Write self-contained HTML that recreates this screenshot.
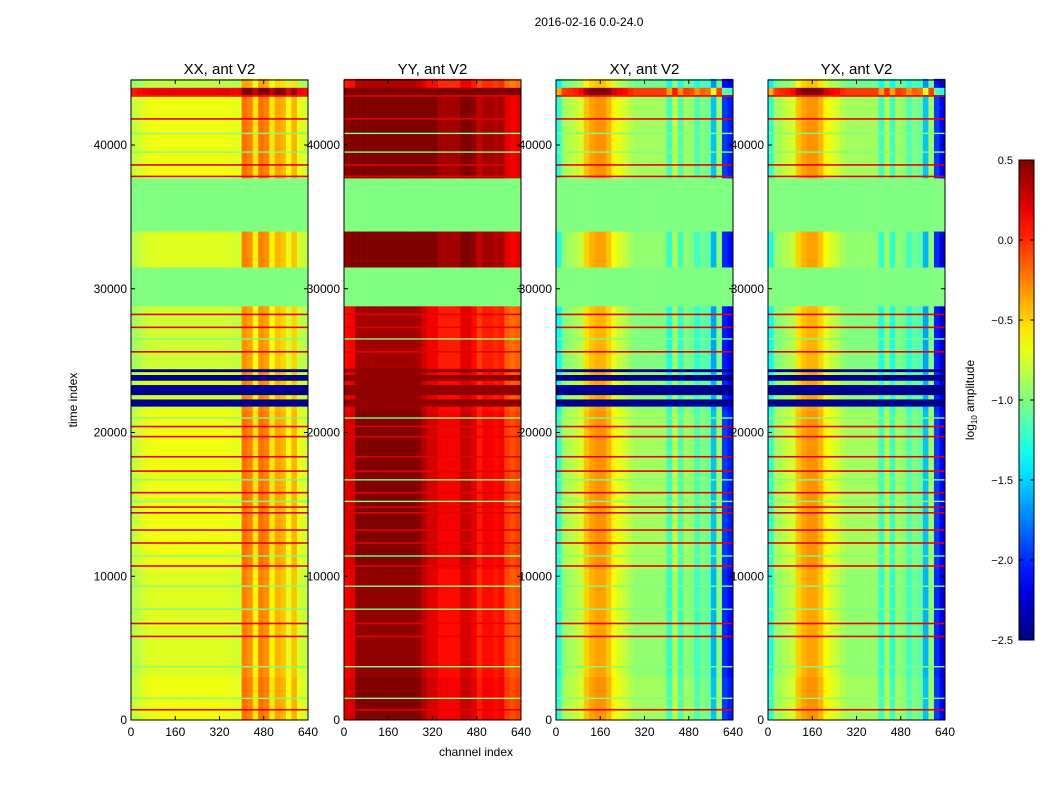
<!DOCTYPE html>
<html><head><meta charset="utf-8"><style>
body{margin:0;background:#fff;font-family:"Liberation Sans",sans-serif}
svg text{font-family:"Liberation Sans",sans-serif}
</style></head><body>
<svg id="fig" width="1050" height="800" xmlns="http://www.w3.org/2000/svg">
<rect width="1050" height="800" fill="#fff"/>
<text x="589" y="26" font-size="12" text-anchor="middle">2016-02-16 0.0-24.0</text>
<text transform="translate(77,400) rotate(-90)" font-size="12" text-anchor="middle">time index</text>
<text x="476" y="756" font-size="12" text-anchor="middle">channel index</text>
<g id="panels"></g>
<g id="cbar"></g>
</svg>
<script>
const titles=["XX, ant V2","YY, ant V2","XY, ant V2","YX, ant V2"];
const xTicks=[0,160,320,480,640];
const yTicks=[0,10000,20000,30000,40000];
const cbTicks=[0.5,0.0,-0.5,-1.0,-1.5,-2.0,-2.5];
const profXX=[-0.85,-0.8,-0.75,-0.72,-0.72,-0.72,-0.72,-0.72,-0.72,-0.72,-0.72,-0.72,-0.72,-0.72,-0.72,-0.72,-0.72,-0.72,-0.75,-0.75,-0.25,-0.3,-0.6,-0.25,-0.3,-0.6,-0.4,-0.45,-0.7,-0.45,-0.75,-0.8];
const profYY=[0.15,0.2,0.45,0.45,0.45,0.45,0.45,0.45,0.45,0.45,0.45,0.45,0.45,0.42,0.3,0.2,0.2,0.1,0.1,0.1,0.1,0.25,0.25,0.15,0.0,0.1,0.1,0.05,0.1,-0.1,-0.15,-0.1];
const profXY=[-1.3,-0.95,-0.9,-0.85,-0.8,-0.5,-0.4,-0.35,-0.35,-0.45,-0.65,-0.75,-0.8,-0.9,-0.95,-0.95,-0.95,-0.95,-0.95,-0.95,-1.25,-0.85,-1.2,-0.95,-1.0,-1.2,-1.05,-1.1,-1.6,-0.95,-2.0,-2.1];
const profYX=[-1.3,-0.95,-0.9,-0.85,-0.8,-0.5,-0.4,-0.35,-0.35,-0.45,-0.65,-0.75,-0.8,-0.9,-0.95,-0.95,-0.95,-0.95,-0.95,-0.95,-1.25,-0.9,-1.25,-0.95,-1.0,-1.2,-1.05,-1.1,-1.6,-0.95,-2.0,-2.2];
const profiles=[profXX,profYY,profXY,profYX];
const bandStart=[0,3000,10500,21500,24500,28800,31500,34000,37700,43500,44000];
const bandEnd=[3000,10500,21500,24500,28800,31500,34000,37700,43500,44000,44600];
const bandOffset=[0.05,0,0.05,0,-0.05,0,0,0,0.05,0.9,-0.1];
const yyBandOffset=[0,0,0,0,0,0,0.3,0,0.25,0.5,0];
const bandFlag=[0,0,0,0,0,1,0,1,0,0,0];
const darkStart=[21800,22600,23600,24200];
const darkEnd=[22300,23300,24000,24400];
const redLines=[700,5800,6700,10700,12300,13200,14400,14800,15800,17300,18300,19700,20400,25600,27300,28200,37800,38600,41800,43400];
const greenLines=[1500,3700,7700,9300,11400,15200,16700,21000,26500,39500,40800];
const panelX=[131,344,556,768];
const NS="http://www.w3.org/2000/svg";
function jet(v){let x=(v+2.5)/3;x=Math.max(0,Math.min(1,x));
 const r=Math.max(0,Math.min(1,1.5-Math.abs(4*x-3))),g=Math.max(0,Math.min(1,1.5-Math.abs(4*x-2))),b=Math.max(0,Math.min(1,1.5-Math.abs(4*x-1)));
 return `rgb(${Math.round(r*255)},${Math.round(g*255)},${Math.round(b*255)})`;}
const yS=t=>720-t*0.014375;
const xS=(p,c)=>panelX[p]+c*177/640;
function mk(tag,attrs,parent){const e=document.createElementNS(NS,tag);for(const k in attrs)e.setAttribute(k,attrs[k]);parent.appendChild(e);return e;}
const root=document.getElementById('panels');
for(let p=0;p<4;p++){
 const g=mk('g',{},root);
 
 
 const prof=profiles[p];
 for(let b=0;b<bandStart.length;b++){
  for(let c=0;c<prof.length;c++){
   const off=p==1?bandOffset[b]+yyBandOffset[b]:bandOffset[b];
   const v=bandFlag[b]?-1.0:prof[c]+off;
   const x0=xS(p,c*20),x1=xS(p,c*20+20),y0=yS(bandEnd[b]),y1=yS(bandStart[b]);
   const r=mk('rect',{x:x0,y:y0,width:x1-x0+0.3,height:y1-y0+0.3,fill:jet(v)},g);
   
   
  }
 }
 for(let i=0;i<darkStart.length;i++){
  const v=p==1?0.45:-2.45;
  const r=mk('rect',{x:panelX[p],y:yS(darkEnd[i]),width:177,height:yS(darkStart[i])-yS(darkEnd[i]),fill:jet(v)},g);
  
  
 }
 for(const t of redLines){
  const r=mk('rect',{x:panelX[p],y:yS(t)-1,width:177,height:1.6,fill:jet(0.2)},g);
  
  
 }
 for(const t of greenLines){
  const r=mk('rect',{x:panelX[p],y:yS(t)-0.8,width:177,height:1.4,fill:jet(-1.0)},g);
  
  
 }
 const fr=mk('rect',{x:panelX[p],y:80,width:177,height:640,fill:'none',stroke:'#000','stroke-width':1},g);
 
 
 const ti=mk('text',{x:panelX[p]+88.5,y:74,'font-size':15,'text-anchor':'middle'},g);ti.textContent=titles[p];
 
 
 for(const t of xTicks){const x=xS(p,t);
  mk('line',{x1:x,x2:x,y1:720,y2:716,stroke:'#000'},g);mk('line',{x1:x,x2:x,y1:80,y2:84,stroke:'#000'},g);
  const tx=mk('text',{x:x,y:736,'font-size':12,'text-anchor':'middle'},g);tx.textContent=t;
  
  }
 for(const t of yTicks){const y=yS(t);
  mk('line',{x1:panelX[p],x2:panelX[p]+4,y1:y,y2:y,stroke:'#000'},g);mk('line',{x1:panelX[p]+177,x2:panelX[p]+173,y1:y,y2:y,stroke:'#000'},g);
  const tx=mk('text',{x:panelX[p]-4,y:y+4,'font-size':12,'text-anchor':'end'},g);tx.textContent=t;
  
  }
}
const cb=document.getElementById('cbar');
const defs=mk('defs',{},cb);const lg=mk('linearGradient',{id:'jg',x1:0,y1:1,x2:0,y2:0},defs);
for(let i=0;i<=20;i++){mk('stop',{offset:i/20,'stop-color':jet(-2.5+3*i/20)},lg);}
const cr=mk('rect',{x:1019,y:160,width:15,height:480,fill:'url(#jg)',stroke:'#000'},cb);


for(const t of cbTicks){const y=160+(0.5-t)/3*480;
 mk('line',{x1:1019,x2:1023,y1:y,y2:y,stroke:'#000'},cb);mk('line',{x1:1030,x2:1034,y1:y,y2:y,stroke:'#000'},cb);
 const tx=mk('text',{x:1013,y:y+4,'font-size':11,'text-anchor':'end'},cb);tx.textContent=(t<0?'\u2212':'')+Math.abs(t).toFixed(1);
 
 }
const cl=mk('text',{transform:'translate(974,400) rotate(-90)','font-size':12,'text-anchor':'middle'},cb);
cl.innerHTML='log<tspan font-size="8" dy="3">10</tspan><tspan dy="-3"> amplitude</tspan>';


</script>
</body></html>
